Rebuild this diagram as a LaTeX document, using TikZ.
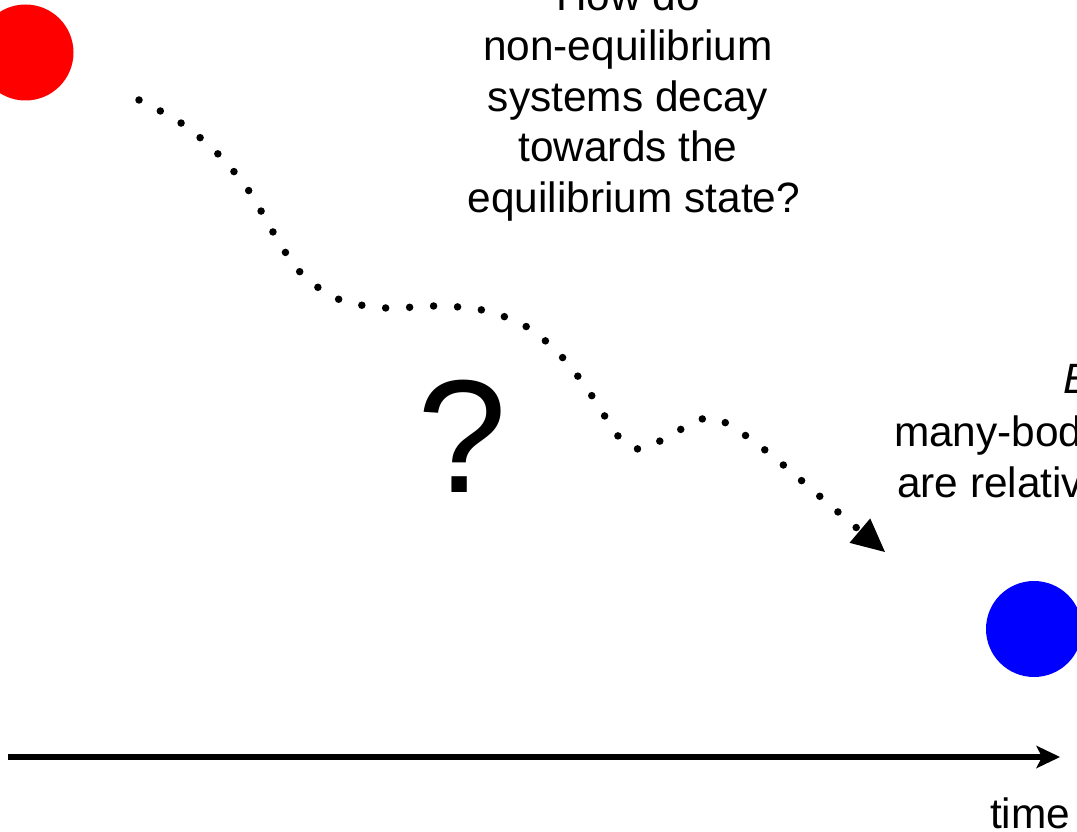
\documentclass[tikz,border=0pt]{standalone}
\usepackage{fontspec}
\setmainfont{Liberation Sans}
\usetikzlibrary{arrows.meta}
\begin{document}
\begin{tikzpicture}[x=1pt,y=-1pt,
  txt/.style={font=\fontsize{42.4}{50.5}\selectfont, inner sep=0pt, outer sep=0pt},
  dotpath/.style={line width=7.5pt, line cap=round, dash pattern=on 0pt off 24pt},
  ball/.style={circle, minimum size=96pt, inner sep=0pt, outer sep=0pt}]
\useasboundingbox (0,0) rectangle (1077,832);
\clip (0,0) rectangle (1077,832);
% states
\node[ball, fill=red] (init) at (25.5,52.5) {};
\node[ball, fill=blue] (eqm) at (1034,629) {};
% dotted decay path
\coordinate (s) at (139,100);
\coordinate (tip) at (885,552);
\draw[dotpath, -{Triangle[length=33pt,width=32pt,line width=0pt]}]
  plot[smooth, tension=0.55] coordinates {(s) (181,123) (218,154) (249,191) (273,232) (300,272) (338,299) (386,308) (434,306) (482,310) (527,327) (563,358) (592,396) (618,436) (638,449) (660,441) (702,419) (726,423) (765,450) (802,481) (838,512) (tip)};
% question
\node[font=\fontsize{161}{161}\selectfont, inner sep=0pt, anchor=base] (q) at (462,492) {?};
% texts
\node[txt, align=center, anchor=north] (how) at (628,-20.4)
  {How do\\non-equilibrium\\systems decay\hspace*{11.8pt}\\towards the\\\hspace*{11.8pt}equilibrium state?};
\node[txt, align=left, anchor=north west] (eqtxt) at (894,362.6)
  {\hspace*{169pt}\textit{Equilibrium}\\[3pt]many-body systems\\\hspace*{3pt}are relatively well understood};
% time axis
\coordinate (t0) at (8,757);
\coordinate (t1) at (1060,757);
\draw[line width=6pt, -{Stealth[length=24pt,width=23pt,inset=6pt,line width=0pt]}] (t0) -- (t1);
\node[txt, anchor=base west] (time) at (990,828) {time};
\end{tikzpicture}
\end{document}
